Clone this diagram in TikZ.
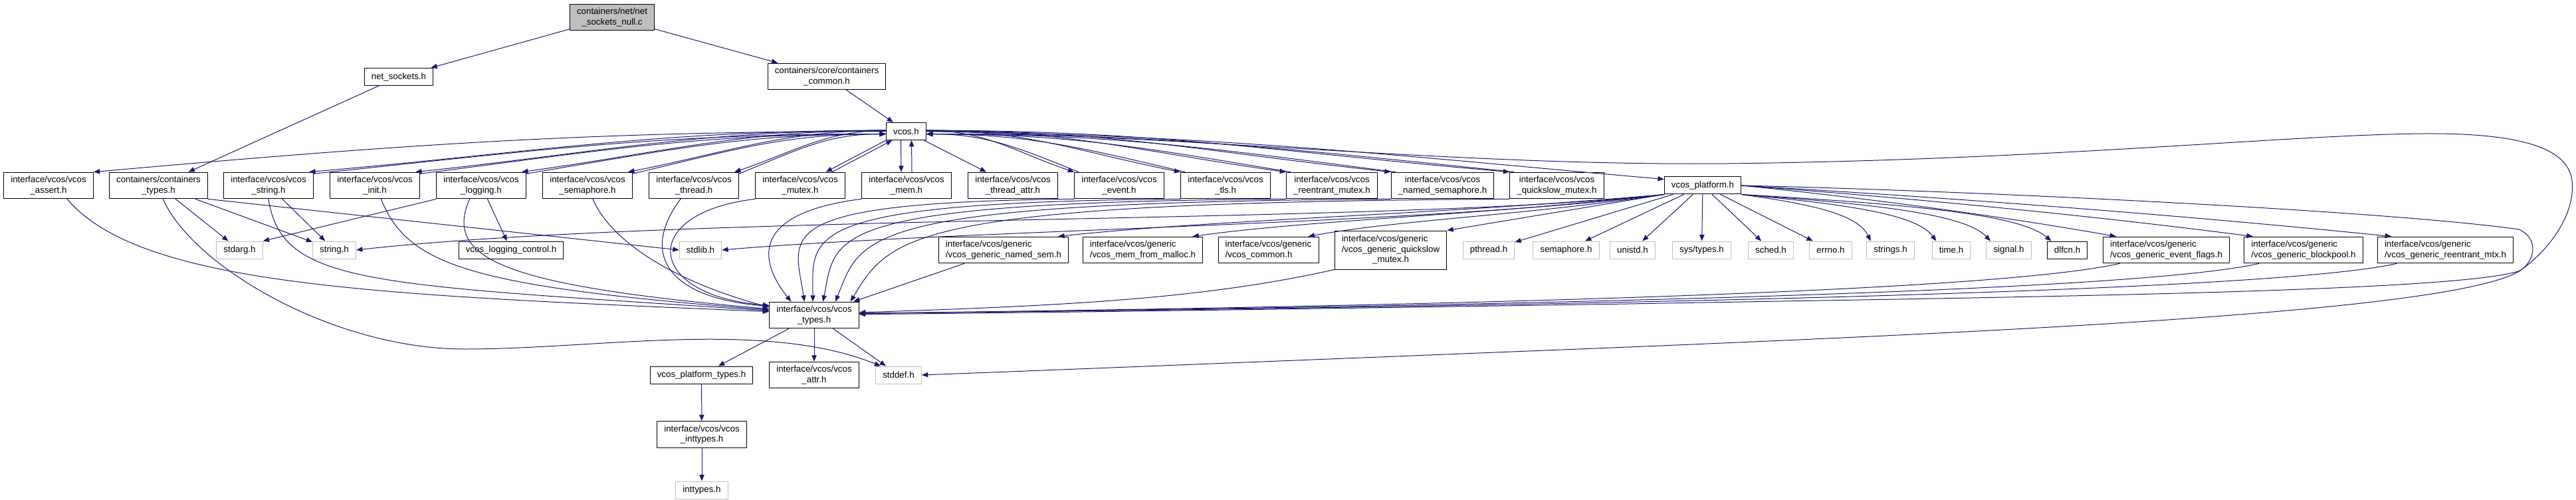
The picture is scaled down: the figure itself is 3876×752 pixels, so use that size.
\documentclass[tikz,border=0pt]{standalone}
\usepackage{fontspec}
\setmainfont{Liberation Sans}
\usetikzlibrary{arrows.meta}
\tikzset{>={Triangle[length=7pt,width=5.5pt]}}
\definecolor{edgeblue}{HTML}{191970}
\definecolor{sysgray}{HTML}{BFBFBF}

\begin{document}
\begin{tikzpicture}[
	x=0.75pt, y=-0.75pt,
	line cap=round, line join=round,
	hdr/.style={draw=black, fill=white, line width=0.75pt, align=center,
		inner xsep=8pt, inner ysep=4.5pt, minimum height=19.5pt,
		font=\fontsize{10}{11.5}\selectfont},
	sys/.style={hdr, draw=sysgray},
	rootbox/.style={hdr, fill=sysgray},
	gen/.style={hdr, align=left},
	dep/.style={->, edgeblue, line width=0.75pt}
]
	\useasboundingbox (0,0) rectangle (3876,752);

	% top of the graph
	\node[rootbox] (root) at (921,26) {containers/net/net\\\_sockets\_null.c};
	\node[hdr] (netsock) at (600,115.5) {net\_sockets.h};
	\node[hdr] (ccommon) at (1244,115) {containers/core/containers\\\_common.h};
	\node[hdr] (vcos) at (1363.5,197.5) {vcos.h};

	% headers included by vcos.h
	\node[hdr] (ctypes) at (238.5,279) {containers/containers\\\_types.h};
	\foreach \n/\x/\fname in {assert/73/assert.h, string/404/string.h, init/564/init.h,
		logging/724/logging.h, semaphore/884/semaphore.h, thread/1044/thread.h,
		mutex/1204/mutex.h, mem/1364/mem.h, tattr/1524/thread\_attr.h, event/1684/event.h,
		tls/1844/tls.h, rmutex/2004/reentrant\_mutex.h, nsem/2170.5/named\_semaphore.h,
		qsmutex/2342.5/quickslow\_mutex.h}
		\node[hdr] (\n) at (\x,279) {interface/vcos/vcos\\\_\fname};
	\node[hdr] (platform) at (2562,279) {vcos\_platform.h};

	% system and generic headers
	\foreach \n/\x/\fname in {stdarg/360.5/stdarg.h, stringh/503/string.h, stdlib/1054/stdlib.h,
		pthread/2240/pthread.h, semh/2356.5/semaphore.h, unistd/2456.5/unistd.h,
		sched/2664.5/sched.h, errno/2754.5/errno.h, strings/2844.5/strings.h,
		timeh/2936/time.h, signal/3022.5/signal.h}
		\node[sys] (\n) at (\x,376) {\fname};
	\node[sys] (systypes) at (2560.5,376) {sys/types.h};
	\node[hdr] (dlfcn) at (3110.5,376) {dlfcn.h};
	\node[hdr] (logctrl) at (769,376) {vcos\_logging\_control.h};
	\node[gen] (gnsem) at (1510,376) {interface/vcos/generic\\/vcos\_generic\_named\_sem.h};
	\node[gen] (malloc) at (1719.5,376) {interface/vcos/generic\\/vcos\_mem\_from\_malloc.h};
	\node[gen] (vcommon) at (1908.5,376) {interface/vcos/generic\\/vcos\_common.h};
	\node[hdr] (gqs) at (2092.5,376) {\begin{tabular}{@{}l@{}}interface/vcos/generic\\/vcos\_generic\_quickslow\\\multicolumn{1}{@{}c@{}}{\_mutex.h}\end{tabular}};
	\node[gen] (gevf) at (3259.5,376) {interface/vcos/generic\\/vcos\_generic\_event\_flags.h};
	\node[gen] (gbp) at (3466,376) {interface/vcos/generic\\/vcos\_generic\_blockpool.h};
	\node[gen] (grmtx) at (3679.5,376) {interface/vcos/generic\\/vcos\_generic\_reentrant\_mtx.h};

	% types and below
	\node[hdr] (vtypes) at (1225,474) {interface/vcos/vcos\\\_types.h};
	\node[hdr] (ptypes) at (1055.5,564) {vcos\_platform\_types.h};
	\node[hdr] (vattr) at (1225,564) {interface/vcos/vcos\\\_attr.h};
	\node[sys] (stddef) at (1352,564) {stddef.h};
	\node[hdr] (vinttypes) at (1056,653.5) {interface/vcos/vcos\\\_inttypes.h};
	\node[sys] (inttypes) at (1056,737) {inttypes.h};

	% top edges
	\draw[dep] (root) -- (netsock);
	\draw[dep] (root) -- (ccommon);
	\draw[dep] (netsock) -- (ctypes);
	\draw[dep] (ccommon) -- (vcos);

	% vcos.h to the left, with the headers that include it back
	\draw[dep] (vcos.west) .. controls +(-450,0) and +(450,-40) .. (assert.north east);
	\foreach \n/\len in {string/861, init/701, logging/541, semaphore/381, thread/221}{
		\draw[dep] ([yshift=1pt]vcos.west) .. controls +({-0.4*\len},0) and +({0.4*\len},-30) .. ([xshift=-5pt]\n.north east);
		\draw[dep] ([yshift=-2pt]\n.north east) .. controls +({0.4*\len},-36) and +({-0.4*\len},0) .. ([yshift=-3pt]vcos.west);
	}
	\draw[dep] (vcos.south west) -- ([xshift=29pt]mutex.north);
	\draw[dep] ([xshift=36pt]mutex.north) -- ([xshift=7pt]vcos.south west);
	\draw[dep] ([xshift=-6pt]vcos.south) -- ([xshift=-6pt]mem.north);
	\draw[dep] ([xshift=6pt]mem.north) -- ([xshift=6pt]vcos.south);
	\draw[dep] (vcos) -- (tattr);
	% vcos.h to the right
	\foreach \n/\len in {event/222, tls/382, rmutex/542, nsem/702, qsmutex/878}{
		\draw[dep] ([yshift=1pt]vcos.east) .. controls +({0.4*\len},0) and +({-0.4*\len},-30) .. (\n.north west);
		\draw[dep] ([xshift=5pt]\n.north west) .. controls +({-0.4*\len},-36) and +({0.4*\len},0) .. ([yshift=-3pt]vcos.east);
	}
	\draw[dep] (vcos.east) .. controls +(450,5) and +(-350,-30) .. ([yshift=-3pt]platform.north west);
	\draw[dep] (vcos.east) .. controls (1800,205) and (2200,250) .. (2600,246)
		.. controls (3100,240) and (3450,202) .. (3650,201)
		.. controls (3850,200) and (3875,245) .. (3870,290)
		.. controls (3866,335) and (3830,380) .. (3792,407)
		.. controls (3700,465) and (3100,495) .. (2450,522)
		.. controls (2000,540) and (1600,556) .. (stddef.east);

	% vcos_platform.h
	\foreach \n in {pthread, semh, unistd, systypes, sched, errno}
		\draw[dep] (platform) -- (\n);
	\foreach \n/\len in {strings/197, timeh/293, signal/377, dlfcn/468}
		\draw[dep] (platform.south east) .. controls +({0.55*\len},15) and +({-0.1*\len},-40) .. ([xshift=5pt]\n.north west);
	\foreach \n/\sh/\len in {gevf/15pt/567, gbp/10pt/772, grmtx/16pt/981}
		\draw[dep] (platform.east) .. controls +({0.35*\len},20) and +({-0.3*\len},-30) .. ([xshift=\sh]\n.north west);
	\draw[dep] (platform.south west) -- (gqs.north east);
	\foreach \n/\len in {vcommon/537, malloc/712, gnsem/915}
		\draw[dep] (platform.south west) .. controls +({-0.4*\len},32) and +({0.25*\len},-25) .. ([xshift=-12pt]\n.north east);
	\draw[dep] (platform.south west) .. controls +(-400,45) and +(500,-55) .. (stringh.east);
	\draw[dep] (platform.south west) .. controls +(-350,45) and +(350,-30) .. (stdlib.east);
	\draw[dep] (platform.east) .. controls (3000,288) and (3600,318) .. (3790,345)
		.. controls (3820,358) and (3815,392) .. (3792,407)
		.. controls (3700,440) and (3000,447) .. (2450,457)
		.. controls (2000,464) and (1600,470) .. ([yshift=1pt]vtypes.east);

	% left side headers
	\draw[dep] (logging.south west) -- (stdarg.north east);
	\draw[dep] (logging) -- (logctrl);
	\draw[dep] (string) -- (stringh);
	\draw[dep] (ctypes) -- (stdarg);
	\draw[dep] (ctypes) -- (stringh);
	\draw[dep] (ctypes.south east) -- (stdlib.west);
	\draw[dep] ([xshift=5pt]ctypes.south) .. controls (290,400) and (500,525) .. (700,525)
		.. controls (900,525) and (1150,480) .. ([xshift=6pt]stddef.north west);

	% everything into vcos_types.h
	\draw[dep] ([xshift=21pt]assert.south) .. controls +(110,130) and +(-600,-25) .. ([yshift=4pt]vtypes.west);
	\draw[dep] (string.south) .. controls +(20,130) and +(-600,-40) .. ([yshift=5pt]vtypes.west);
	\draw[dep] ([xshift=7pt]init.south) .. controls +(40,100) and +(-450,-35) .. ([yshift=6pt]vtypes.west);
	\draw[dep] ([xshift=-13pt]logging.south) .. controls +(-40,90) and +(-400,-35) .. ([yshift=7pt]vtypes.west);
	\draw[dep] ([xshift=6pt]semaphore.south) .. controls +(30,70) and +(-130,-35) .. ([yshift=9pt]vtypes.west);
	\draw[dep] ([xshift=-15pt]thread.south) .. controls +(-60,80) and +(-157,-13) .. ([yshift=10pt]vtypes.west);
	\draw[dep] (mutex.south west) .. controls +(-177,21) and +(-187,-15) .. ([yshift=11pt]vtypes.west);
	\draw[dep] (mem.south west) .. controls +(-166,21) and +(-50,-63) .. ([xshift=-26pt]vtypes.north);
	\foreach \n/\sh/\len/\dx in {event/-11pt/466/-15, tls/-1.5pt/580/0, rmutex/10pt/700/20,
		nsem/24pt/800/40, qsmutex/41pt/900/60}
		\draw[dep] (\n.south west) .. controls +(-\len,5) and +(\dx,-100) .. ([xshift=\sh]vtypes.north);
	\draw[dep] (gnsem) -- (vtypes);
	\draw[dep] (gqs.south west) .. controls +(-200,45) and +(300,-10) .. ([yshift=3pt]vtypes.east);
	\foreach \n/\sh/\far in {gevf/19pt/800, gbp/17pt/900, grmtx/22pt/1000}
		\draw[dep] ([xshift=\sh]\n.south west) .. controls +(-200,45) and +(\far,-10) .. ([yshift=2pt]vtypes.east);

	% below vcos_types.h
	\draw[dep] (vtypes) -- (ptypes);
	\draw[dep] (vtypes) -- (vattr);
	\draw[dep] (vtypes) -- (stddef);
	\draw[dep] (ptypes) -- (vinttypes);
	\draw[dep] (vinttypes) -- (inttypes);
\end{tikzpicture}
\end{document}
